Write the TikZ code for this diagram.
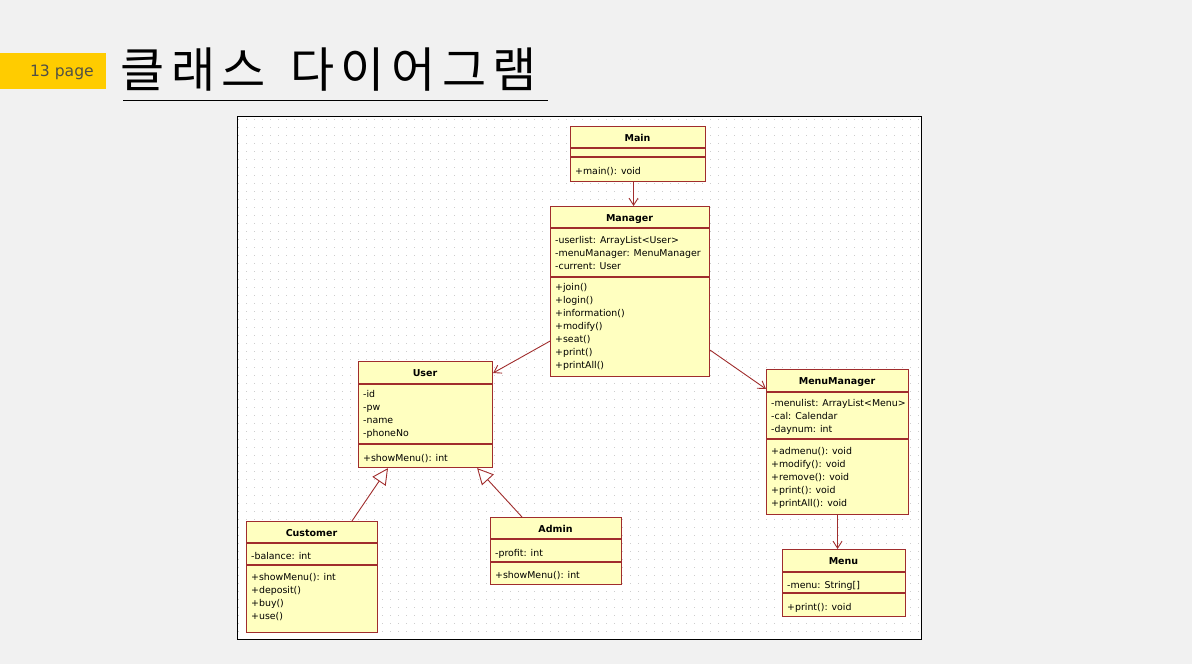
\documentclass[tikz,border=0pt]{standalone}
\usepackage{fontspec}
\setmainfont{DejaVu Sans}
\newfontfamily\krfont{Noto Sans CJK KR}
\usetikzlibrary{arrows.meta}
\definecolor{bgc}{RGB}{241,241,241}
\definecolor{tabyellow}{RGB}{255,204,0}
\definecolor{tabtext}{RGB}{80,80,70}
\definecolor{umlred}{RGB}{160,45,45}
\definecolor{umlfill}{RGB}{255,255,192}
\definecolor{dotc}{RGB}{205,205,205}
\tikzset{
  cls/.style={draw=umlred, fill=umlfill, line width=1.1pt, anchor=north west, inner sep=0pt},
  sep/.style={draw=umlred, line width=1.1pt},
  hdr/.style={font=\fontsize{9.5pt}{13pt}\selectfont\bfseries, anchor=base, inner sep=0pt},
  comp/.style={font=\fontsize{9.4pt}{13pt}\selectfont, anchor=north west, inner sep=0pt, align=left,
    execute at begin node={\rule{0pt}{9pt}}},
  assoc/.style={draw=umlred, line width=0.9pt, -{Straight Barb[length=7pt,width=9pt]}},
  inherit/.style={draw=umlred, line width=0.9pt, -{Triangle[open,length=16pt,width=16pt,fill=white]}},
  griddot/.style={draw=dotc, line width=1pt, dash pattern=on 1pt off 7pt}
}
\newcommand\kg{\hspace{6.5pt}}
\begin{document}
\begin{tikzpicture}[x=1pt,y=-1pt]
\useasboundingbox (0,0) rectangle (1192,664);
\fill[bgc] (0,0) rectangle (1192,664);
% header
\fill[tabyellow] (0,53) rectangle (106,89);
\node[anchor=base east, inner sep=0pt, font=\fontsize{15.6pt}{18pt}\selectfont, text=tabtext] (pagenum) at (94,76.5) {13 page};
\node[anchor=base west, inner sep=0pt, font=\krfont\fontsize{48pt}{52pt}\selectfont] (title) at (120.5,87) {클\kg 래\kg 스\hspace{24pt}다\kg 이\kg 어\kg 그\kg 램};
\draw[black, line width=1pt] (123,100) -- (548,100);
% panel
\fill[white] (237,116) rectangle (921,639);
\foreach \yy in {119,127,...,631} {\draw[griddot] (238,\yy) -- (920,\yy);}
\draw[black, line width=1pt] (237,116) rectangle (921,639);

% Main
\node[cls, minimum width=135pt, minimum height=55pt] (main) at (570,126) {};
\draw[sep] (main.west |- 0,148) -- (main.east |- 0,148);
\draw[sep] (main.west |- 0,157) -- (main.east |- 0,157);
\node[hdr] (main-h) at (637.5,141.5) {Main};
\node[comp] (main-m) at (575,165.5) {+main(): void};

% Manager
\node[cls, minimum width=159pt, minimum height=170pt] (manager) at (550,206) {};
\draw[sep] (manager.west |- 0,228) -- (manager.east |- 0,228);
\draw[sep] (manager.west |- 0,277) -- (manager.east |- 0,277);
\node[hdr] (manager-h) at (629.5,221.5) {Manager};
\node[comp] (manager-a) at (555,236.5) {-userlist: ArrayList<User>\\-menuManager: MenuManager\\-current: User};
\node[comp] (manager-m) at (555,283.5) {+join()\\+login()\\+information()\\+modify()\\+seat()\\+print()\\+printAll()};

% User
\node[cls, minimum width=134pt, minimum height=106pt] (user) at (358,361) {};
\draw[sep] (user.west |- 0,384) -- (user.east |- 0,384);
\draw[sep] (user.west |- 0,444) -- (user.east |- 0,444);
\node[hdr] (user-h) at (425,376.5) {User};
\node[comp] (user-a) at (363,390.5) {-id\\-pw\\-name\\-phoneNo};
\node[comp] (user-m) at (363,452.5) {+showMenu(): int};

% MenuManager
\node[cls, minimum width=142pt, minimum height=145pt] (mm) at (766,369) {};
\draw[sep] (mm.west |- 0,392) -- (mm.east |- 0,392);
\draw[sep] (mm.west |- 0,439) -- (mm.east |- 0,439);
\node[hdr] (mm-h) at (837,384.5) {MenuManager};
\node[comp] (mm-a) at (771,399.5) {-menulist: ArrayList<Menu>\\-cal: Calendar\\-daynum: int};
\node[comp] (mm-m) at (771,447.5) {+admenu(): void\\+modify(): void\\+remove(): void\\+print(): void\\+printAll(): void};

% Customer
\node[cls, minimum width=131pt, minimum height=111pt] (customer) at (246,521) {};
\draw[sep] (customer.west |- 0,543) -- (customer.east |- 0,543);
\draw[sep] (customer.west |- 0,565) -- (customer.east |- 0,565);
\node[hdr] (customer-h) at (311.5,536.5) {Customer};
\node[comp] (customer-a) at (251,550.5) {-balance: int};
\node[comp] (customer-m) at (251,573.5) {+showMenu(): int\\+deposit()\\+buy()\\+use()};

% Admin
\node[cls, minimum width=131pt, minimum height=67pt] (admin) at (490,517) {};
\draw[sep] (admin.west |- 0,539) -- (admin.east |- 0,539);
\draw[sep] (admin.west |- 0,562) -- (admin.east |- 0,562);
\node[hdr] (admin-h) at (555.5,532.5) {Admin};
\node[comp] (admin-a) at (495,547.5) {-profit: int};
\node[comp] (admin-m) at (495,569.5) {+showMenu(): int};

% Menu
\node[cls, minimum width=123pt, minimum height=67pt] (menu) at (782,549) {};
\draw[sep] (menu.west |- 0,572) -- (menu.east |- 0,572);
\draw[sep] (menu.west |- 0,593) -- (menu.east |- 0,593);
\node[hdr] (menu-h) at (843.5,564.5) {Menu};
\node[comp] (menu-a) at (787,579.5) {-menu: String[]};
\node[comp] (menu-m) at (787,601.5) {+print(): void};

% connectors
\draw[assoc] ([xshift=-4.5pt]main.south) -- ([xshift=-4.5pt]main.south |- manager.north);
\draw[assoc] ([yshift=36pt]manager.south west) -- ([yshift=-12pt]user.north east);
\draw[assoc] ([yshift=27pt]manager.south east) -- ([yshift=-20pt]mm.north west);
\draw[assoc] (mm.south) -- (mm.south |- menu.north);
\draw[inherit] ([xshift=106pt]customer.north west) -- ([xshift=30pt]user.south west);
\draw[inherit] ([xshift=32pt]admin.north west) -- ([xshift=-16pt]user.south east);
\end{tikzpicture}
\end{document}
